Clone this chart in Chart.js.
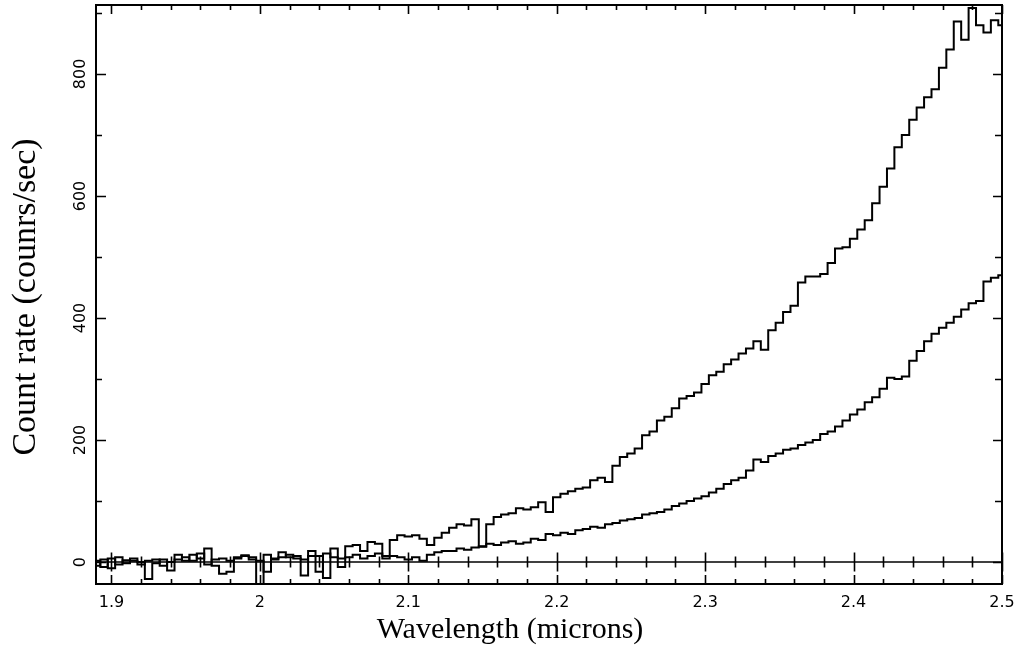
<!DOCTYPE html>
<html>
<head>
<meta charset="utf-8">
<title>Count rate vs wavelength</title>
<script src="https://cdn.jsdelivr.net/npm/chart.js@4/dist/chart.umd.min.js"></script>
<style>
  html, body { margin: 0; padding: 0; background: #fff; }
  #wrap { width: 1020px; height: 659px; }
</style>
</head>
<body>
<div id="wrap"><canvas id="spectrum" width="1020" height="659"></canvas></div>
<script>
// Wavelength bins (microns)
const wavelength = [
    1.890, 1.895, 1.900, 1.905, 1.910, 1.915, 1.920, 1.925, 1.930, 1.935,
    1.940, 1.945, 1.950, 1.955, 1.960, 1.965, 1.970, 1.975, 1.980, 1.985,
    1.990, 1.995, 2.000, 2.005, 2.010, 2.015, 2.020, 2.025, 2.030, 2.035,
    2.040, 2.045, 2.050, 2.055, 2.060, 2.065, 2.070, 2.075, 2.080, 2.085,
    2.090, 2.095, 2.100, 2.105, 2.110, 2.115, 2.120, 2.125, 2.130, 2.135,
    2.140, 2.145, 2.150, 2.155, 2.160, 2.165, 2.170, 2.175, 2.180, 2.185,
    2.190, 2.195, 2.200, 2.205, 2.210, 2.215, 2.220, 2.225, 2.230, 2.235,
    2.240, 2.245, 2.250, 2.255, 2.260, 2.265, 2.270, 2.275, 2.280, 2.285,
    2.290, 2.295, 2.300, 2.305, 2.310, 2.315, 2.320, 2.325, 2.330, 2.335,
    2.340, 2.345, 2.350, 2.355, 2.360, 2.365, 2.370, 2.375, 2.380, 2.385,
    2.390, 2.395, 2.400, 2.405, 2.410, 2.415, 2.420, 2.425, 2.430, 2.435,
    2.440, 2.445, 2.450, 2.455, 2.460, 2.465, 2.470, 2.475, 2.480, 2.485,
    2.490, 2.495, 2.500
];

// Brighter spectrum (counts/sec)
const countsUpper = [
    2, -8, 6, -4, 3, 6, 0, -28, -2, 4,
    -14, 12, 2, 12, 6, 22, -6, -19, -16, 8,
    11, 4, -36, 12, 6, 16, 8, 10, -22, 18,
    10, -26, 22, 6, 26, 28, 18, 33, 30, 10,
    36, 44, 42, 44, 38, 28, 40, 48, 56, 62,
    60, 70, 25, 62, 74, 78, 80, 88, 86, 90,
    98, 82, 106, 112, 116, 120, 122, 134, 138, 131,
    158, 172, 178, 186, 208, 214, 232, 238, 252, 268,
    272, 278, 292, 306, 312, 324, 332, 342, 350, 362,
    348, 380, 392, 410, 420, 458, 468, 468, 472, 490,
    514, 516, 530, 545, 560, 588, 615, 645, 680, 700,
    725, 745, 762, 775, 810, 840, 886, 856, 908, 880,
    868, 888, 880
];

// Fainter spectrum (counts/sec)
const countsLower = [
    -6, 4, -10, 8, -2, 2, -4, 2, 4, -6,
    0, 4, 8, 2, 14, -4, 4, 6, 2, 6,
    10, 8, 2, -16, 4, 8, 12, 6, 4, 10,
    -16, 14, 8, -8, 8, 12, 6, 10, 14, 6,
    10, 8, 4, 8, 2, 12, 16, 18, 18, 22,
    20, 24, 26, 30, 28, 32, 34, 30, 32, 38,
    36, 46, 44, 48, 46, 52, 54, 58, 56, 62,
    64, 68, 70, 72, 78, 80, 82, 86, 92, 96,
    100, 104, 108, 114, 120, 128, 134, 138, 150, 168,
    164, 174, 178, 184, 186, 192, 196, 200, 210, 214,
    222, 232, 242, 250, 262, 270, 284, 302, 300, 304,
    330, 346, 362, 374, 384, 392, 402, 414, 424, 428,
    460, 466, 470
];

// Axis ticks
const xTicks = [1.9, 2.0, 2.1, 2.2, 2.3, 2.4, 2.5];
const xTickLabels = ['1.9', '2', '2.1', '2.2', '2.3', '2.4', '2.5'];
const yTicks = [0, 200, 400, 600, 800];
const yTickLabels = ['0', '200', '400', '600', '800'];

const toPoints = arr => arr.map((v, i) => ({ x: wavelength[i], y: v }));

// Frame, inward ticks, zero line and all text
const framePlugin = {
    id: 'frame',
    afterDatasetsDraw(chart) {
        const { ctx, chartArea: a, scales: { x, y } } = chart;
        ctx.save();
        ctx.strokeStyle = '#000';
        ctx.fillStyle = '#000';

        ctx.lineWidth = 2;
        ctx.strokeRect(a.left, a.top, a.right - a.left, a.bottom - a.top);

        const y0 = y.getPixelForValue(0);
        ctx.lineWidth = 1.5;
        ctx.beginPath();
        ctx.moveTo(a.left, y0);
        ctx.lineTo(a.right, y0);
        ctx.stroke();

        // x ticks every 0.02, majors every 0.1
        ctx.lineWidth = 1.6;
        ctx.beginPath();
        for (let i = 0; i <= 30; i++) {
            const v = Math.round((1.9 + i * 0.02) * 1000) / 1000;
            const px = Math.round(x.getPixelForValue(v)) + 0.5;
            const major = i % 5 === 0;
            const bl = major ? 9 : 5;
            const zl = major ? 9.5 : 5.5;
            ctx.moveTo(px, a.bottom); ctx.lineTo(px, a.bottom - bl);
            ctx.moveTo(px, a.top); ctx.lineTo(px, a.top + bl);
            ctx.moveTo(px, y0 - zl); ctx.lineTo(px, y0 + zl);
        }
        // y ticks every 100, majors every 200
        for (let v = 0; v <= 900; v += 100) {
            const py = Math.round(y.getPixelForValue(v)) + 0.5;
            const major = v % 200 === 0;
            ctx.moveTo(a.left, py); ctx.lineTo(a.left + (major ? 10 : 6), py);
            ctx.moveTo(a.right, py); ctx.lineTo(a.right - (major ? 9 : 7), py);
        }
        ctx.stroke();

        // tick labels
        ctx.font = '16px "DejaVu Sans"';
        ctx.textAlign = 'center';
        ctx.textBaseline = 'alphabetic';
        xTicks.forEach((v, i) => {
            ctx.fillText(xTickLabels[i], x.getPixelForValue(v), 607);
        });
        yTicks.forEach((v, i) => {
            ctx.save();
            ctx.translate(85, y.getPixelForValue(v));
            ctx.rotate(-Math.PI / 2);
            ctx.fillText(yTickLabels[i], 0, 0);
            ctx.restore();
        });

        // axis titles
        ctx.font = '30px "Liberation Serif"';
        ctx.fillText('Wavelength (microns)', 510, 638);
        ctx.save();
        ctx.font = '34px "Liberation Serif"';
        ctx.translate(35, 297);
        ctx.rotate(-Math.PI / 2);
        ctx.fillText('Count rate (counrs/sec)', 0, 0);
        ctx.restore();

        ctx.restore();
    }
};

new Chart(document.getElementById('spectrum').getContext('2d'), {
    type: 'line',
    data: {
        datasets: [
            { data: toPoints(countsUpper), borderColor: '#000', borderWidth: 2, stepped: 'middle', pointRadius: 0, fill: false },
            { data: toPoints(countsLower), borderColor: '#000', borderWidth: 2, stepped: 'middle', pointRadius: 0, fill: false }
        ]
    },
    options: {
        responsive: false,
        animation: false,
        layout: { padding: { left: 96, right: 18, top: 5, bottom: 75 } },
        plugins: { legend: { display: false }, tooltip: { enabled: false } },
        scales: {
            x: { type: 'linear', min: 1.8896, max: 2.5, display: false },
            y: { type: 'linear', min: -36, max: 913, display: false }
        }
    },
    plugins: [framePlugin]
});
</script>
</body>
</html>
